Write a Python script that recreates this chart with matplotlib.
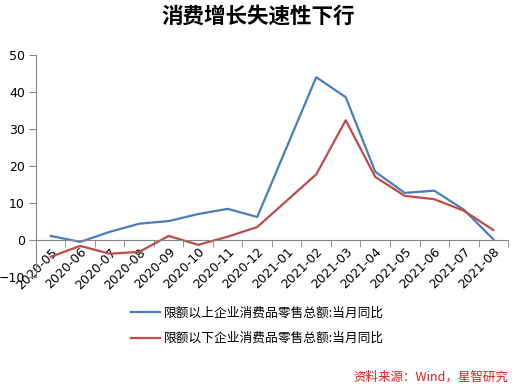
import numpy as np
import matplotlib
matplotlib.use("Agg")
import matplotlib.pyplot as plt

plt.rcParams["font.family"] = ["DejaVu Sans", "Noto Sans CJK SC"]

# ── data ──
months = ["2020-05", "2020-06", "2020-07", "2020-08", "2020-09", "2020-10",
          "2020-11", "2020-12", "2021-01", "2021-02", "2021-03", "2021-04",
          "2021-05", "2021-06", "2021-07", "2021-08"]
above = [1.1, -0.5, 2.2, 4.4, 5.1, 7.0, 8.4, 6.2, np.nan, 43.9, 38.5, 18.4,
         12.7, 13.3, 8.2, 0.2]
below = [-4.5, -1.6, -3.7, -3.2, 1.1, -1.3, 0.9, 3.5, np.nan, 17.7, 32.3, 17.0,
         11.9, 11.0, 7.9, 2.7]
label_above = "限额以上企业消费品零售总额:当月同比"
label_below = "限额以下企业消费品零售总额:当月同比"

BLUE = "#4A7EBB"
RED = "#BE4B48"

fig = plt.figure(figsize=(5.17, 3.87), dpi=100)
ax = fig.add_axes([0.0696, 0.284, 0.913, 0.575])

x = np.arange(len(months))
for vals, c, lab in [(above, BLUE, label_above), (below, RED, label_below)]:
    v = np.array(vals, dtype=float)
    ok = ~np.isnan(v)   # 2021-01 not published separately
    ax.plot(x[ok], v[ok], color=c, lw=1.6, label=lab)

ax.set_xlim(-0.5, len(months) - 0.5)
ax.set_ylim(-10, 50)
ax.set_yticks(range(-10, 51, 10))

for s in ["top", "right"]:
    ax.spines[s].set_visible(False)
ax.spines["bottom"].set_position(("data", 0))
ax.spines["left"].set_color("#868686")
ax.spines["bottom"].set_color("#868686")

ax.set_xticks(x)
ax.set_xticklabels(months, rotation=45, ha="right", va="top",
                   rotation_mode="anchor", fontsize=9)
ax.set_xticks(np.arange(-0.5, len(months), 1.0), minor=True)
ax.tick_params(axis="x", which="major", length=0, pad=4)
ax.tick_params(axis="x", which="minor", length=5, color="#868686")
ax.tick_params(axis="y", length=5, color="#868686", labelsize=9, pad=3)

fig.text(0.5, 0.958, "消费增长失速性下行", ha="center", va="center",
         fontsize=15.5, fontweight="bold", family=["Noto Sans CJK SC"])

ax.legend(loc="upper left", bbox_to_anchor=(0.232, 0.238),
          bbox_transform=fig.transFigure, frameon=False,
          handlelength=2.2, handletextpad=0.3, labelspacing=1.0,
          prop={"family": ["Noto Sans CJK SC"], "size": 9.2})

fig.text(0.983, 0.025, "资料来源：Wind，星智研究", ha="right", va="center",
         fontsize=9, color="#E8191E", style="italic",
         family=["Noto Sans CJK SC", "DejaVu Sans"])

fig.savefig("out.png", dpi=100)
